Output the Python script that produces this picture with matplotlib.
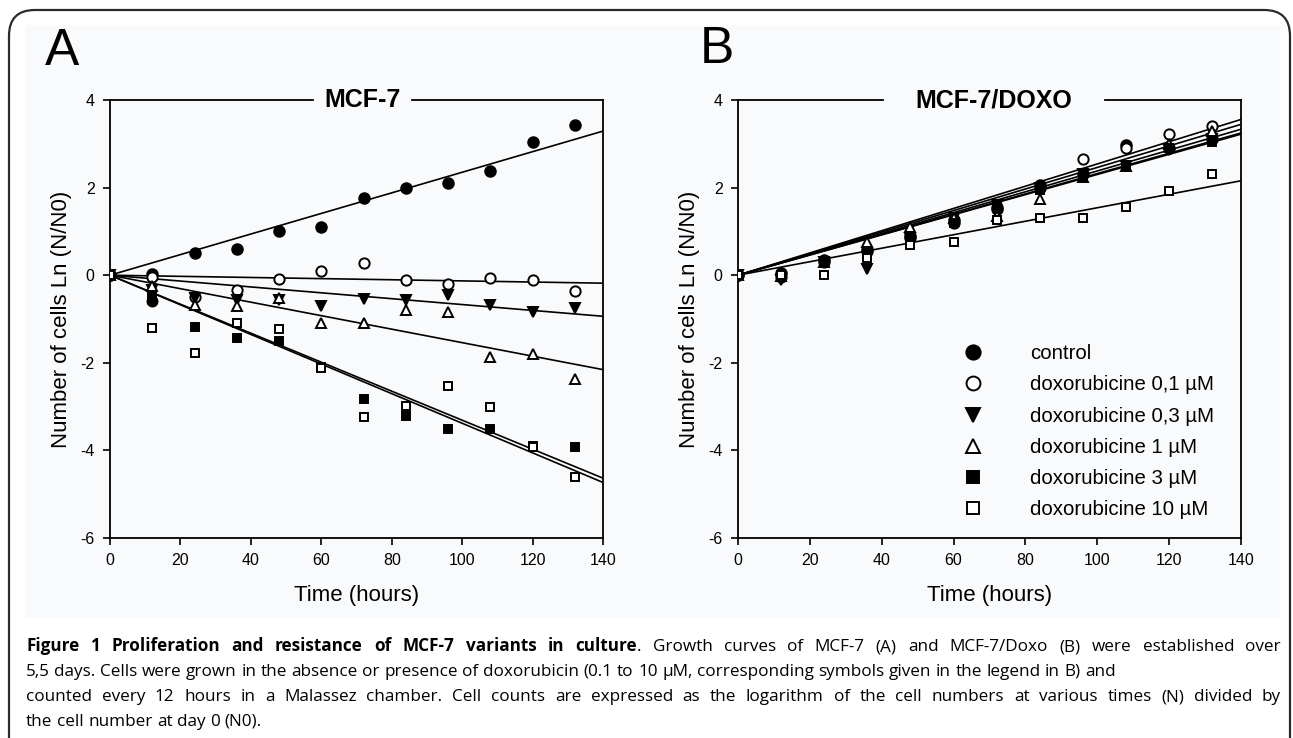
import matplotlib
matplotlib.use("Agg")
import matplotlib.pyplot as plt
from matplotlib.patches import FancyBboxPatch, Rectangle
import numpy as np

plt.rcParams["font.family"] = ["Liberation Sans", "DejaVu Sans"]
plt.rcParams["axes.unicode_minus"] = False

# time points (hours)
hours = [0, 12, 24, 36, 48, 60, 72, 84, 96, 108, 120, 132]

series_names = ["control", "doxorubicine 0,1 µM", "doxorubicine 0,3 µM",
                "doxorubicine 1 µM", "doxorubicine 3 µM", "doxorubicine 10 µM"]

# panel A: MCF-7, Ln(N/N0)
mcf7_control = [0, 0.02, 0.5, 0.6, 1.0, 1.1, 1.76, 1.98, 2.1, 2.37, 3.03, 3.42]
mcf7_control_extra_x = [12]
mcf7_control_extra_y = [-0.6]
mcf7_dox01 = [0, -0.05, -0.5, -0.34, -0.09, 0.09, 0.27, -0.1, -0.2, -0.07, -0.1, -0.35]
mcf7_dox03 = [0, -0.34, -0.52, -0.57, -0.57, -0.7, -0.55, -0.57, -0.45, -0.68, -0.84, -0.76]
mcf7_dox1 = [0, -0.25, -0.68, -0.7, -0.53, -1.1, -1.1, -0.8, -0.84, -1.87, -1.8, -2.38]
mcf7_dox3 = [0, -0.45, -1.19, -1.44, -1.5, -2.1, -2.83, -3.22, -3.52, -3.52, -3.9, -3.93]
mcf7_dox10 = [0, -1.21, -1.78, -1.1, -1.23, -2.12, -3.23, -2.99, -2.53, -3.01, -3.93, -4.61]
# fitted slopes (per hour, through origin)
mcf7_slopes = [0.0235, -0.0013, -0.0067, -0.0154, -0.0331, -0.0338]

# panel B: MCF-7/DOXO
doxo_control = [0, 0.05, 0.35, 0.55, 0.9, 1.25, 1.5, 2.05, 2.3, 2.97, 2.9, 3.1]
doxo_dox01 = [0, -0.05, 0.3, 0.6, 0.85, 1.2, 1.55, 2.0, 2.65, 2.9, 3.22, 3.4]
doxo_dox03 = [0, -0.1, 0.3, 0.15, 0.85, 1.3, 1.6, 2.0, 2.3, 2.5, 2.85, 3.1]
doxo_dox1 = [0, -0.02, 0.3, 0.75, 1.1, 1.3, 1.35, 1.75, 2.25, 2.5, 3.0, 3.3]
doxo_dox3 = [0, 0.0, 0.3, 0.5, 0.9, 1.2, 1.55, 1.95, 2.25, 2.5, 2.9, 3.05]
doxo_dox10 = [0, 0.0, 0.0, 0.39, 0.68, 0.75, 1.26, 1.3, 1.3, 1.55, 1.92, 2.3]
doxo_slopes = [0.0246, 0.0254, 0.0230, 0.0238, 0.0232, 0.0154]

x_ticks = [0, 20, 40, 60, 80, 100, 120, 140]
y_ticks = [-6, -4, -2, 0, 2, 4]

BG = "#f9fafc"
W, H = 1293, 738
# marker, filled?, size
STYLES = [("o", True, 7.6), ("o", False, 7.4), ("v", True, 7.6),
          ("^", False, 7.6), ("s", True, 6.2), ("s", False, 6.2)]

fig = plt.figure(figsize=(W / 100, H / 100), dpi=100)
fig.patch.set_facecolor("white")

# light panel background and rounded outer frame
fig.patches.append(Rectangle((25 / W, 1 - 618 / H), 1255 / W, 593 / H,
                             transform=fig.transFigure, facecolor=BG, edgecolor="none", zorder=-2))
fig.patches.append(FancyBboxPatch((9 / W, -0.2), 1281 / W, 1.2 - 10 / H,
                                  boxstyle="round,pad=0,rounding_size=0.02",
                                  mutation_aspect=W / H,
                                  transform=fig.transFigure, facecolor="none",
                                  edgecolor="#2b2b2b", linewidth=1.6, zorder=-1))


def draw_panel(ax, series, slopes, title, gap, extra=None):
    ax.set_facecolor(BG)
    xfit = np.array([0, 140])
    for slope in slopes:
        ax.plot(xfit, slope * xfit, color="black", lw=1.2, zorder=2)
    for i, ys in enumerate(series):
        m, filled, ms = STYLES[i]
        ax.plot(hours, ys, ls="none", marker=m, ms=ms, mec="black", mew=1.4,
                mfc="black" if filled else "white", zorder=3 + i, label=series_names[i])
    if extra is not None:
        m, filled, ms = STYLES[0]
        ax.plot(extra[0], extra[1], ls="none", marker=m, ms=ms, mec="black",
                mfc="black", zorder=3)
    ax.set_xlim(0, 140)
    ax.set_ylim(-6, 4)
    ax.set_xticks(x_ticks)
    ax.set_yticks(y_ticks)
    ax.tick_params(direction="out", length=5, width=1.2, labelsize=11.5, pad=6)
    for s in ["left", "bottom", "right"]:
        ax.spines[s].set_linewidth(1.3)
    ax.spines["top"].set_visible(False)
    ax.plot([0, gap[0]], [1, 1], transform=ax.transAxes, color="black", lw=1.3, clip_on=False)
    ax.plot([gap[1], 1], [1, 1], transform=ax.transAxes, color="black", lw=1.3, clip_on=False)
    ax.text((gap[0] + gap[1]) / 2, 1.0, title, transform=ax.transAxes, ha="center",
            va="center", fontsize=18, fontweight="bold")
    ax.set_xlabel("Time (hours)", fontsize=16, labelpad=12)
    ax.set_ylabel("Number of cells Ln (N/N0)", fontsize=16, labelpad=6)


axA = fig.add_axes([110 / W, 1 - 538 / H, 493 / W, 438 / H])
axB = fig.add_axes([738 / W, 1 - 538 / H, 503 / W, 438 / H])

draw_panel(axA, [mcf7_control, mcf7_dox01, mcf7_dox03, mcf7_dox1, mcf7_dox3, mcf7_dox10],
           mcf7_slopes, "MCF-7", (0.412, 0.613), extra=(mcf7_control_extra_x, mcf7_control_extra_y))
draw_panel(axB, [doxo_control, doxo_dox01, doxo_dox03, doxo_dox1, doxo_dox3, doxo_dox10],
           doxo_slopes, "MCF-7/DOXO", (0.288, 0.730))

axB.legend(loc="upper left", bbox_to_anchor=(0.426, 0.461), frameon=False, fontsize=14.7,
           markerscale=1.35, handlelength=1.2, handletextpad=2.2, labelspacing=0.6,
           borderaxespad=0)

fig.text(45 / W, 1 - 65 / H, "A", fontsize=37, ha="left", va="baseline")
fig.text(700 / W, 1 - 63 / H, "B", fontsize=37, ha="left", va="baseline")

# caption, lines 1 and 3 justified between x=26 and x=1281
cap_font = ["Open Sans", "DejaVu Sans"]
cap_size = 12.3
renderer = fig.canvas.get_renderer()
caption = [
    ([("Figure 1 Proliferation and resistance of MCF-7 variants in culture", "bold"),
      (". Growth curves of MCF-7 (A) and MCF-7/Doxo (B) were established over", "normal")], True),
    ([("5,5 days. Cells were grown in the absence or presence of doxorubicin (0.1 to 10 µM, "
       "corresponding symbols given in the legend in B) and", "normal")], False),
    ([("counted every 12 hours in a Malassez chamber. Cell counts are expressed as the logarithm "
       "of the cell numbers at various times (N) divided by", "normal")], True),
    ([("the cell number at day 0 (N0).", "normal")], False),
]


def caption_line(parts, y, justify, x0=26, x1=1281):
    # words: (text, weight, space_before)
    words = []
    for text, weight in parts:
        for j, wd in enumerate(text.split(" ")):
            words.append((wd, weight, j > 0 or not words))
    arts = []
    for wd, weight, _ in words:
        t = fig.text(0, 1 - y / H, wd, fontsize=cap_size, fontweight=weight,
                     family=cap_font, ha="left", va="baseline")
        arts.append((t, t.get_window_extent(renderer).width))
    t2 = fig.text(0, 0, "a a", fontsize=cap_size, family=cap_font)
    t1 = fig.text(0, 0, "a", fontsize=cap_size, family=cap_font)
    space = t2.get_window_extent(renderer).width - 2 * t1.get_window_extent(renderer).width
    t1.remove()
    t2.remove()
    n_gaps = sum(1 for k, w in enumerate(words) if k > 0 and w[2])
    total = sum(w for _, w in arts) + n_gaps * space
    if justify and n_gaps:
        space += (x1 - x0 - total) / n_gaps
    x = x0
    for k, ((t, w), word) in enumerate(zip(arts, words)):
        if k > 0 and word[2]:
            x += space
        t.set_x(x / W)
        x += w


for k, (parts, justify) in enumerate(caption):
    caption_line(parts, 651 + 25 * k, justify)

fig.savefig("out.png", dpi=100, facecolor=fig.get_facecolor())
